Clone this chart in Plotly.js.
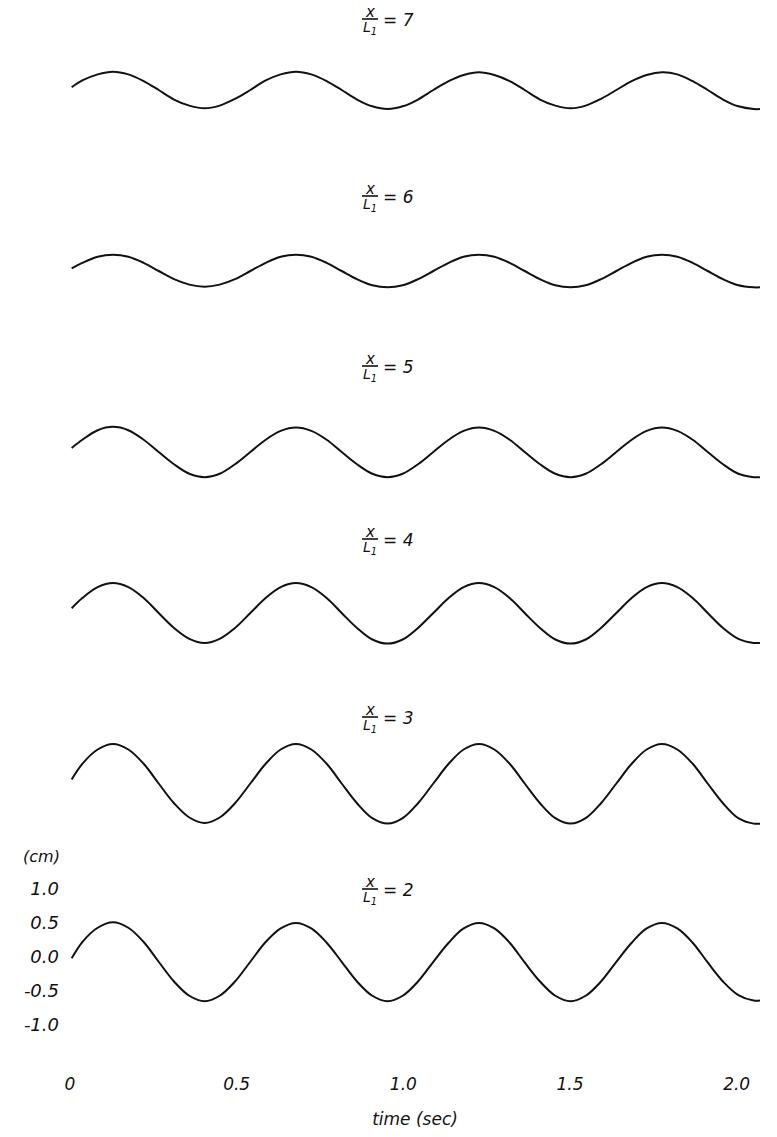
<!DOCTYPE html>
<html>
<head>
<meta charset="utf-8">
<script src="https://cdn.plot.ly/plotly-3.0.1.min.js"></script>
<style>
  html, body { margin: 0; padding: 0; background: #ffffff; }
  #chart { width: 777px; height: 1137px; }
</style>
</head>
<body>
<div id="chart"></div>
<script>
// Sample times (s), twelve readings per wave period
const time = [0.005, 0.037, 0.083, 0.129, 0.175, 0.221, 0.266, 0.312, 0.358, 0.404, 0.449, 0.495, 0.541, 0.587, 0.632,
              0.678, 0.724, 0.770, 0.815, 0.861, 0.907, 0.953, 0.998, 1.044, 1.090, 1.136, 1.181,
              1.227, 1.273, 1.319, 1.364, 1.410, 1.456, 1.502, 1.547, 1.593, 1.639, 1.685, 1.730,
              1.776, 1.822, 1.868, 1.913, 1.959, 2.005, 2.051, 2.070];

// Surface elevation (cm) at each station x/L1; stations 3-7 are about their own mean
const eta7 = [0.04, 0.14, 0.23, 0.27, 0.23, 0.13, 0.00, -0.14, -0.23, -0.27, -0.23, -0.13, 0.00, 0.14, 0.23,
              0.27, 0.23, 0.13, 0.00, -0.14, -0.24, -0.28, -0.24, -0.14, 0.00, 0.13, 0.22,
              0.26, 0.22, 0.13, 0.00, -0.14, -0.23, -0.27, -0.23, -0.13, 0.00, 0.13, 0.22,
              0.26, 0.23, 0.13, 0.00, -0.14, -0.24, -0.28, -0.28];
const eta6 = [0.04, 0.12, 0.21, 0.24, 0.21, 0.12, 0.00, -0.12, -0.20, -0.23, -0.20, -0.12, 0.00, 0.12, 0.21,
              0.24, 0.21, 0.12, 0.00, -0.12, -0.21, -0.24, -0.21, -0.12, 0.00, 0.12, 0.21,
              0.24, 0.21, 0.12, 0.00, -0.12, -0.21, -0.24, -0.21, -0.12, 0.00, 0.12, 0.21,
              0.24, 0.21, 0.12, 0.00, -0.12, -0.21, -0.24, -0.24];
const eta5 = [0.06, 0.18, 0.32, 0.37, 0.32, 0.18, 0.00, -0.18, -0.32, -0.37, -0.32, -0.18, 0.00, 0.18, 0.31,
              0.36, 0.31, 0.18, 0.00, -0.18, -0.32, -0.37, -0.32, -0.18, 0.00, 0.18, 0.31,
              0.36, 0.31, 0.18, 0.00, -0.18, -0.32, -0.37, -0.32, -0.18, 0.00, 0.18, 0.31,
              0.36, 0.31, 0.18, 0.00, -0.18, -0.32, -0.37, -0.37];
const eta4 = [0.07, 0.22, 0.38, 0.44, 0.38, 0.22, 0.00, -0.22, -0.38, -0.44, -0.38, -0.22, 0.00, 0.22, 0.38,
              0.44, 0.38, 0.22, 0.00, -0.22, -0.39, -0.45, -0.39, -0.22, 0.00, 0.22, 0.38,
              0.44, 0.38, 0.22, 0.00, -0.22, -0.39, -0.45, -0.39, -0.22, 0.00, 0.22, 0.38,
              0.44, 0.38, 0.22, 0.00, -0.22, -0.38, -0.44, -0.44];
const eta3 = [0.06, 0.29, 0.50, 0.58, 0.50, 0.29, 0.00, -0.29, -0.50, -0.58, -0.50, -0.29, 0.00, 0.29, 0.50,
              0.58, 0.50, 0.29, 0.00, -0.29, -0.51, -0.59, -0.51, -0.29, 0.00, 0.29, 0.50,
              0.58, 0.50, 0.29, 0.00, -0.29, -0.51, -0.59, -0.51, -0.29, 0.00, 0.29, 0.50,
              0.58, 0.50, 0.29, 0.00, -0.29, -0.51, -0.59, -0.59];
const eta2 = [-0.02, 0.22, 0.43, 0.51, 0.43, 0.22, -0.07, -0.36, -0.57, -0.65, -0.57, -0.36, -0.07, 0.22, 0.42,
              0.50, 0.42, 0.21, -0.07, -0.36, -0.57, -0.65, -0.57, -0.36, -0.07, 0.21, 0.42,
              0.50, 0.42, 0.21, -0.08, -0.36, -0.57, -0.65, -0.57, -0.36, -0.07, 0.21, 0.42,
              0.50, 0.42, 0.21, -0.08, -0.36, -0.56, -0.64, -0.64];

const stations = [7, 6, 5, 4, 3, 2];
const series = [eta7, eta6, eta5, eta4, eta3, eta2];

const yTickVals = [-1.0, -0.5, 0.0, 0.5, 1.0];
const yTickText = ['-1.0', '-0.5', '0.0', '0.5', '1.0'];
const xTickVals = [0, 0.5, 1.0, 1.5, 2.0];
const xTickText = ['0', '0.5', '1.0', '1.5', '2.0'];

// ---- page geometry (pixels) ----
const W = 777, H = 1137;
const M = { l: 70, r: 17, t: 0, b: 77 };
const plotW = W - M.l - M.r;
const plotH = H - M.t - M.b;
const PX_PER_CM = 68;                 // common vertical scale of every record
const zeroPx = [90, 271, 452, 613, 783.5, 957];   // level of each record's zero line
const labelPx = [19, 196, 366, 539, 717, 889];    // fraction bar of each station label
const band = 80;                       // half height of each stacked panel

const px = x => (x - M.l) / plotW;
const py = y => (plotH - (y - M.t)) / plotH;

const FONT = 'DejaVu Sans, sans-serif';
const ink = '#111111';

const traces = [];
const layout = {
  width: W, height: H,
  margin: M,
  paper_bgcolor: '#ffffff',
  plot_bgcolor: 'rgba(0,0,0,0)',
  showlegend: false,
  font: { family: FONT, color: ink },
  xaxis: {
    range: [0, 2.07],
    anchor: 'y6',
    showgrid: false, zeroline: false, showline: false,
    ticks: '',
    tickvals: xTickVals, ticktext: xTickText,
    tickfont: { size: 17, style: 'italic', family: FONT, color: ink },
    ticklabelstandoff: 12,
    automargin: false,
    title: { text: 'time (sec)', standoff: 20,
             font: { size: 17, style: 'italic', family: FONT, color: ink } }
  },
  annotations: [],
  shapes: []
};

series.forEach((vals, i) => {
  const axName = 'y' + (i + 1);
  const key = 'yaxis' + (i + 1);
  const z = zeroPx[i];
  const isBottom = i === series.length - 1;
  const lowPx = isBottom ? M.t + plotH : z + band;
  const highPx = z - band;
  layout[key] = {
    domain: [py(lowPx), py(highPx)],
    range: [-(lowPx - z) / PX_PER_CM, (z - highPx) / PX_PER_CM],
    anchor: 'x',
    showgrid: false, zeroline: false, showline: false,
    fixedrange: true,
    automargin: false,
    visible: isBottom
  };
  if (isBottom) {
    Object.assign(layout[key], {
      ticks: '',
      tickvals: yTickVals, ticktext: yTickText,
      tickfont: { size: 18, style: 'italic', family: FONT, color: ink },
      ticklabelstandoff: 10
    });
  }
  traces.push({
    type: 'scatter', mode: 'lines',
    x: time, y: vals,
    xaxis: 'x', yaxis: axName,
    line: { color: ink, width: 2, shape: 'spline', smoothing: 1 },
    hoverinfo: 'skip'
  });

  // station label: x over L1, then "= n"
  const yb = labelPx[i];
  layout.shapes.push({
    type: 'line', xref: 'paper', yref: 'paper',
    x0: px(362), x1: px(378), y0: py(yb), y1: py(yb),
    line: { color: ink, width: 1.6 }
  });
  layout.annotations.push(
    { text: 'x', xref: 'paper', yref: 'paper', x: px(370), y: py(yb - 7),
      showarrow: false, xanchor: 'center', yanchor: 'middle',
      font: { size: 15, style: 'italic', family: FONT, color: ink } },
    { text: 'L<sub>1</sub>', xref: 'paper', yref: 'paper', x: px(370), y: py(yb + 9),
      showarrow: false, xanchor: 'center', yanchor: 'middle',
      font: { size: 14, style: 'italic', family: FONT, color: ink } },
    { text: '= ' + stations[i], xref: 'paper', yref: 'paper', x: px(381), y: py(yb + 1),
      showarrow: false, xanchor: 'left', yanchor: 'middle',
      font: { size: 17, style: 'italic', family: FONT, color: ink } }
  );
});

layout.annotations.push({
  text: '(cm)', xref: 'paper', yref: 'paper', x: px(41), y: py(856),
  showarrow: false, xanchor: 'center', yanchor: 'middle',
  font: { size: 16, style: 'italic', family: FONT, color: ink }
});

Plotly.newPlot('chart', traces, layout, { staticPlot: true, displayModeBar: false });
</script>
</body>
</html>
